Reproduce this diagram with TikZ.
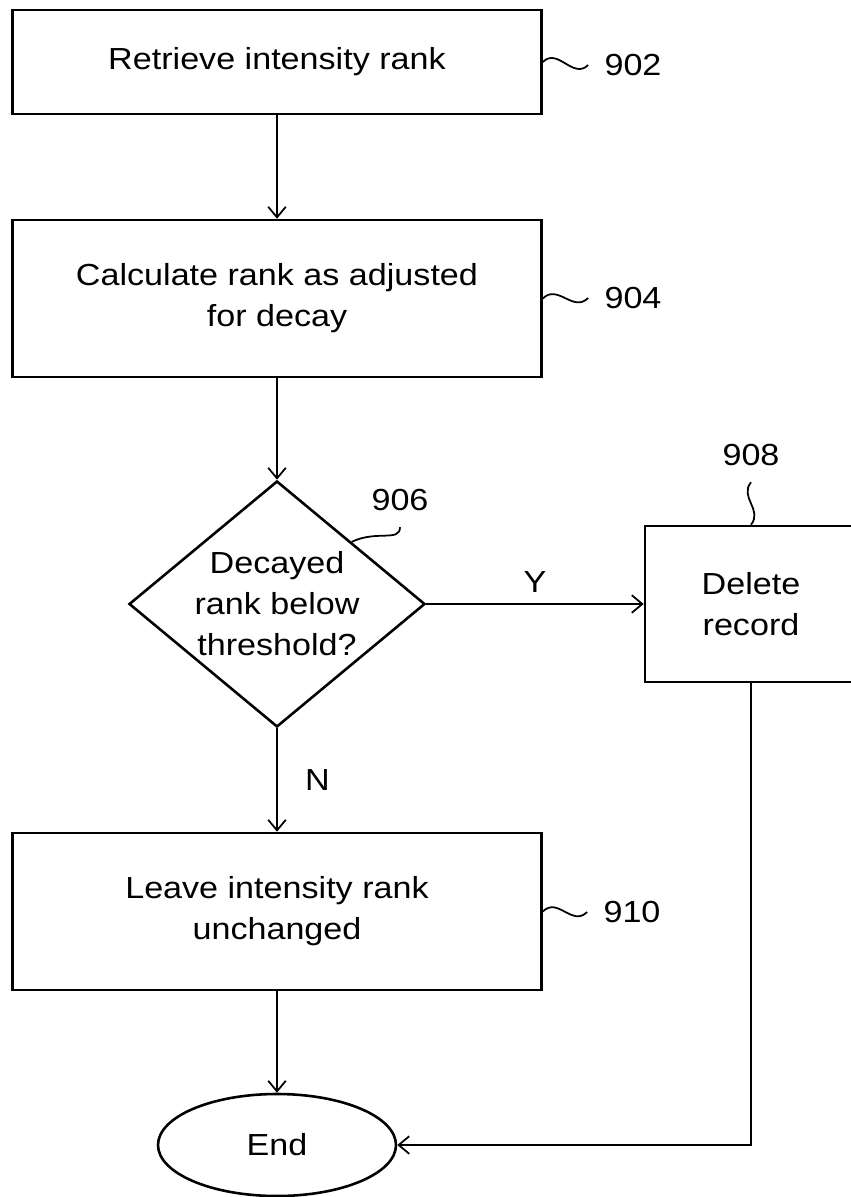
\documentclass[tikz,border=0pt]{standalone}
\usepackage{fontspec}
\setmainfont[FakeStretch=1.12]{Liberation Sans}
\usetikzlibrary{shapes.geometric,arrows.meta}

\begin{document}
\begin{tikzpicture}
[x=0.03cm, y=-0.03cm, % one unit is one pixel of the sheet
font=\fontsize{26}{35}\selectfont,
flow/.style={-{Straight Barb[length=9pt,width=15pt]}, line width=1.5pt},
every edge/.append style={flow},
box/.style={draw, line width=2.2pt, align=center, minimum width=15.87cm},
decision/.style={draw, diamond, line width=2.2pt, align=center, inner sep=0pt, shape aspect=1.2, minimum width=8.88cm, minimum height=7.38cm},
refnum/.style={inner sep=2pt, outer sep=12pt},
squiggle/.style={line width=1.5pt},
]
\useasboundingbox (0,0) rectangle (851,1197);

\node[box, minimum height=3.12cm] (902) at (277,62) {Retrieve intensity rank};
\node[box, minimum height=4.71cm] (904) at (277,298.5) {Calculate rank as adjusted\\for decay};
\node[decision] (906) at (277,604) {Decayed\\rank below\\threshold?};
\node[box, minimum width=6.36cm, minimum height=4.68cm] (908) at (751,604) {Delete\\record};
\node[box, minimum height=4.71cm] (910) at (277,911.5) {Leave intensity rank\\unchanged};
\node[draw, ellipse, line width=2.2pt, minimum width=7.14cm, minimum height=3.06cm] (end) at (277,1145) {End};

% reference numbers
\node[refnum] (l902) at (633,65) {902};
\node[refnum] (l904) at (633,298) {904};
\node[refnum] (l906) at (400,500) {906};
\node[refnum] (l908) at (751,455) {908};
\node[refnum] (l910) at (632,912) {910};

\draw[squiggle] (902.east) .. controls +(15,-15) and +(-15,15) .. (l902.west);
\draw[squiggle] (904.east) .. controls +(15,-15) and +(-15,15) .. (l904.west);
\draw[squiggle] (910.east) .. controls +(15,-15) and +(-15,15) .. (l910.west);
\draw[squiggle] (906.north east) .. controls +(25,-12) and +(0,15) .. (l906.south);
\draw[squiggle] (l908.south) .. controls +(-12,15) and +(12,-15) .. (908.north);

\draw  (902) edge (904);
\draw  (904) edge (906);
\draw  (906) edge node [above=0.2cm] {Y} (908);
\draw  (906) edge node [right=0.7cm] {N} (910);
\draw  (910) edge (end);
\draw[flow]  (908) |- (end);
\end{tikzpicture}
\end{document}
